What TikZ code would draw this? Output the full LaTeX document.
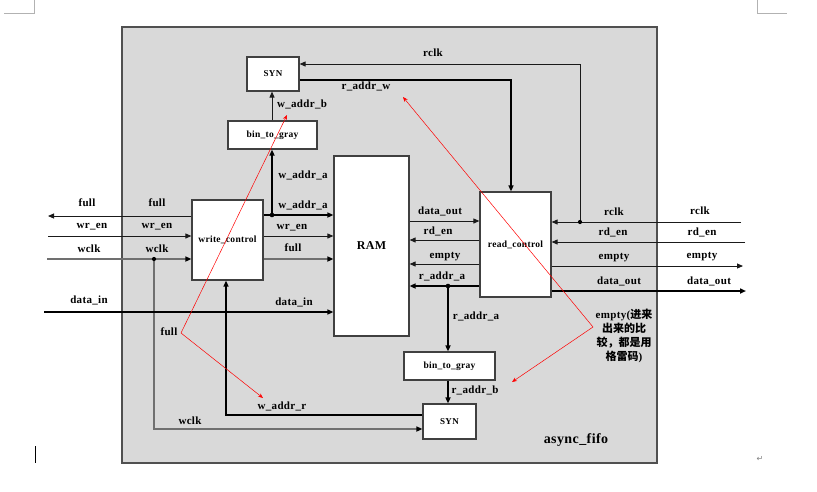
\documentclass[tikz,border=0pt]{standalone}
\usepackage{fontspec}
\setmainfont{Liberation Serif}[LetterSpace=3]
\newfontfamily\cjk{Noto Sans CJK SC}
\newfontfamily\dejavu{DejaVu Sans}
\usetikzlibrary{arrows.meta}
\definecolor{framefill}{HTML}{D9D9D9}
\definecolor{framec}{HTML}{505050}
\definecolor{edgec}{HTML}{404040}
\definecolor{wirec}{HTML}{1A1A1A}
\definecolor{greywire}{HTML}{707070}
\begin{document}
\begin{tikzpicture}[x=1pt,y=-1pt,
  font=\bfseries\fontsize{11}{13}\selectfont,
  frame/.style={draw=framec, fill=framefill, line width=1.5pt, inner sep=0pt},
  blk/.style={draw=edgec, line width=1.2pt, fill=white, inner sep=0pt, font=\bfseries\fontsize{9.5}{11}\selectfont},
  lbl/.style={inner sep=0pt, text height=7pt, text depth=2pt},
  arr/.style={-{Triangle[length=6pt,width=5pt]}},
  garr/.style={-{Triangle[length=6pt,width=5pt,color=black]}},
  rarr/.style={draw=red, line width=0.5pt, -{Stealth[length=5pt,width=4pt]}},
  wire/.style={draw=wirec, line width=0.9pt},
  mwire/.style={draw=black, line width=1.3pt},
  bus/.style={draw=black, line width=1.7pt},
  gwire/.style={draw=greywire, line width=1.5pt}]
\useasboundingbox (0,0) rectangle (817,491);
% page marks
\draw[gray!60, line width=0.8pt] (4,13) -- (34,13) -- (34,0);
\draw[gray!60, line width=0.8pt] (757,0) -- (757,13) -- (787,13);
\draw[black, line width=0.8pt] (35.5,446) -- (35.5,463);
\node[font=\dejavu\fontsize{8}{8}\selectfont, text=gray, inner sep=0pt] (ret) at (760,459) {↵};
% frame
\node[frame, minimum width=535pt, minimum height=436pt] (fifo) at (389.5,245) {};
% blocks
\node[blk, minimum width=52pt, minimum height=34pt, font=\bfseries\fontsize{9}{11}\selectfont] (syn1) at (273,74) {SYN};
\node[blk, minimum width=89pt, minimum height=28pt] (b2g1) at (272.5,135) {bin\_to\_gray};
\node[blk, minimum width=75pt, minimum height=180pt, font=\bfseries\fontsize{12}{14}\selectfont] (ram) at (371.5,246) {RAM};
\node[blk, minimum width=71pt, minimum height=80pt] (wc) at (227.5,240) {write\_control};
\node[blk, minimum width=71pt, minimum height=105pt] (rc) at (515.5,244.5) {read\_control};
\node[blk, minimum width=91pt, minimum height=28pt] (b2g2) at (449.5,366) {bin\_to\_gray};
\node[blk, minimum width=53pt, minimum height=35pt, font=\bfseries\fontsize{9}{11}\selectfont] (syn2) at (449.5,421.5) {SYN};
% coordinates
\coordinate (ja) at (272,215);
\coordinate (rtop) at (580,64);
\coordinate (jr) at (580,222);
\coordinate (rw) at (511,80);
\coordinate (fullout) at (48,216);
\coordinate (wrin) at (48,236);
\coordinate (wclkin) at (47,259);
\coordinate (jw) at (154,259);
\coordinate (wclkb) at (154,429);
\coordinate (din) at (44,312);
\coordinate (wr) at (226,415);
\coordinate (dint) at (445,221);
\coordinate (rdint) at (445,240);
\coordinate (emint) at (445,264);
\coordinate (jra) at (448,286);
\coordinate (rclkin) at (741,222);
\coordinate (rdin) at (745,242);
\coordinate (emout) at (743,266);
\coordinate (doout) at (746,291);
% wires
\draw[bus,arr] (wc.east|-ja) -- (ram.west|-ja);
\draw[bus,arr] (ja) -- (ja|-b2g1.south);
\draw[wire,arr] (ja|-b2g1.north) -- (ja|-syn1.south);
\draw[wire,arr] (rclkin) -- (rc.east|-rclkin);
\draw[wire,arr] (jr) -- (rtop) -- (syn1.east|-rtop);
\draw[mwire,arr] (syn1.east|-rw) -- (rw) -- (rw|-rc.north);
\draw[wire,arr] (wc.west|-fullout) -- (fullout);
\draw[wire,arr] (wrin) -- (wc.west|-wrin);
\draw[gwire,garr] (wclkin) -- (wc.west|-wclkin);
\draw[gwire,garr] (jw) -- (wclkb) -- (syn2.west|-wclkb);
\draw[mwire,arr] (din) -- (ram.west|-din);
\draw[wire,arr] (wc.east|-wrin) -- (ram.west|-wrin);
\draw[gwire,garr] (wc.east|-wclkin) -- (ram.west|-wclkin);
\draw[mwire,arr] (syn2.west|-wr) -- (wr) -- (wr|-wc.south);
\draw[wire,arr] (ram.east|-dint) -- (rc.west|-dint);
\draw[wire,arr] (rc.west|-rdint) -- (ram.east|-rdint);
\draw[wire,arr] (rc.west|-emint) -- (ram.east|-emint);
\draw[bus,arr] (rc.west|-jra) -- (ram.east|-jra);
\draw[bus,arr] (jra) -- (jra|-b2g2.north);
\draw[bus,arr] (jra|-b2g2.south) -- (jra|-syn2.north);
\draw[wire,arr] (rdin) -- (rc.east|-rdin);
\draw[wire,arr] (rc.east|-emout) -- (emout);
\draw[bus,arr] (rc.east|-doout) -- (doout);
% junction dots
\fill (ja) circle (2.3pt);
\fill (jr) circle (2.1pt);
\fill (jw) circle (2.1pt);
\fill (jra) circle (2.3pt);
% labels
\node[lbl] (l-rclk1) at (433,54) {rclk};
\node[lbl] (l-raw) at (366,87) {r\_addr\_w};
\node[lbl] (l-wab) at (302,105) {w\_addr\_b};
\node[lbl] (l-waa1) at (303,176) {w\_addr\_a};
\node[lbl] (l-waa2) at (303,206) {w\_addr\_a};
\node[lbl] (l-wren3) at (292,227) {wr\_en};
\node[lbl] (l-full3) at (293,249) {full};
\node[lbl] (l-full1) at (87,204) {full};
\node[lbl] (l-full2) at (157,204) {full};
\node[lbl] (l-wren1) at (92,226) {wr\_en};
\node[lbl] (l-wren2) at (157,226) {wr\_en};
\node[lbl] (l-wclk1) at (89,250) {wclk};
\node[lbl] (l-wclk2) at (157,250) {wclk};
\node[lbl] (l-din1) at (89,301) {data\_in};
\node[lbl] (l-din2) at (294,303) {data\_in};
\node[lbl] (l-do1) at (440,212) {data\_out};
\node[lbl] (l-rd1) at (438,232) {rd\_en};
\node[lbl] (l-em1) at (445,256) {empty};
\node[lbl] (l-raa1) at (442,277) {r\_addr\_a};
\node[lbl] (l-raa2) at (476,317) {r\_addr\_a};
\node[lbl] (l-rab) at (475,391) {r\_addr\_b};
\node[lbl] (l-war) at (282,407) {w\_addr\_r};
\node[lbl] (l-wclk3) at (190,422) {wclk};
\node[lbl] (l-rclk2) at (614,213) {rclk};
\node[lbl] (l-rclk3) at (700,212) {rclk};
\node[lbl] (l-rd2) at (613,233) {rd\_en};
\node[lbl] (l-rd3) at (702,233) {rd\_en};
\node[lbl] (l-em2) at (614,257) {empty};
\node[lbl] (l-em3) at (702,256) {empty};
\node[lbl] (l-do2) at (619,282) {data\_out};
\node[lbl] (l-do3) at (709,282) {data\_out};
\node[lbl] (l-fullnote) at (169,333) {full};
\node[inner sep=0pt, font=\bfseries\fontsize{14}{16}\selectfont] (title) at (576,440) {async\_fifo};
\node[inner sep=0pt, align=center, font=\bfseries\fontsize{11}{14}\selectfont] (note) at (624,336)
  {empty({\cjk 进来}\\{\cjk 出来的比}\\{\cjk 较，都是用}\\{\cjk 格雷码})};
% red annotation arrows
\coordinate (fp) at (181,333);
\coordinate (t1) at (287,115);
\coordinate (t2) at (263,398);
\coordinate (ep) at (593,327);
\coordinate (t3) at (403,97);
\coordinate (t4) at (512,382);
\draw[rarr] (fp) -- (t1);
\draw[rarr] (fp) -- (t2);
\draw[rarr] (ep) -- (t3);
\draw[rarr] (ep) -- (t4);
\end{tikzpicture}
\end{document}
